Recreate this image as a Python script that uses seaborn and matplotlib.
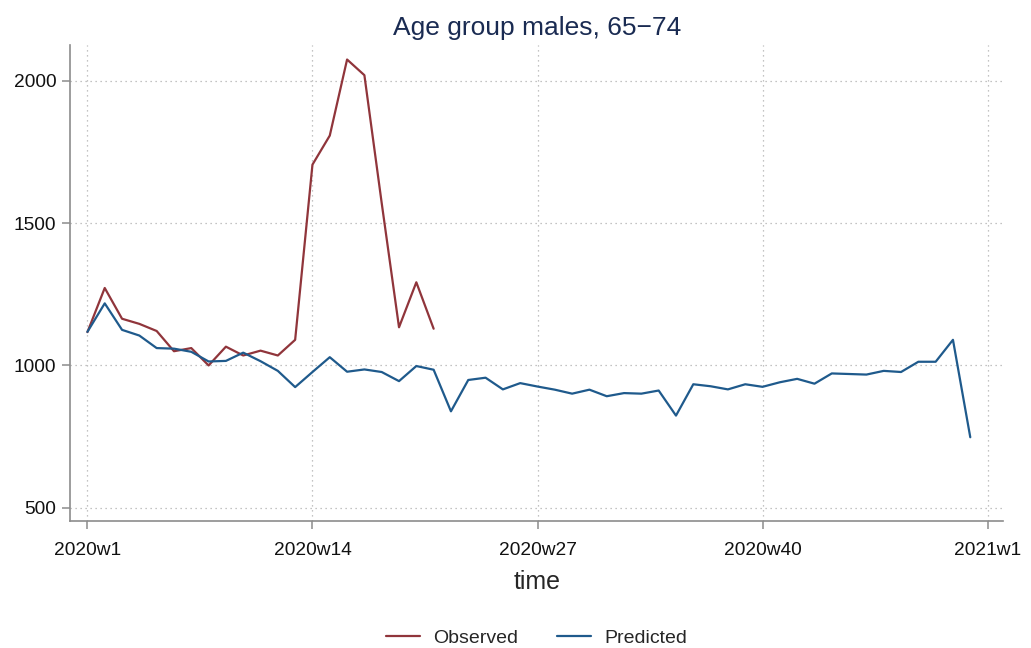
import numpy as np
import pandas as pd
import matplotlib
matplotlib.use("Agg")
import matplotlib.pyplot as plt
import seaborn as sns

# weekly counts, week index 1 = 2020w1
observed = [1117, 1272, 1164, 1146, 1121, 1050, 1061, 1000, 1066, 1035,
            1052, 1035, 1090, 1705, 1807, 2074, 2019, 1570, 1134, 1292, 1129]
predicted = [1118, 1218, 1125, 1105, 1061, 1059, 1048, 1014, 1016, 1045,
             1015, 981, 924, 977, 1029, 978, 986, 977, 945, 998,
             985, 839, 949, 957, 916, 938, 926, 915, 901, 915,
             892, 903, 901, 912, 824, 934, 927, 916, 934, 925,
             941, 953, 936, 972, 970, 968, 981, 977, 1013, 1013,
             1090, 748]
tick_weeks = [1, 14, 27, 40, 53]
tick_labels = ["2020w1", "2020w14", "2020w27", "2020w40", "2021w1"]

df = pd.concat([
    pd.DataFrame({"week": np.arange(1, len(observed) + 1), "value": observed, "series": "Observed"}),
    pd.DataFrame({"week": np.arange(1, len(predicted) + 1), "value": predicted, "series": "Predicted"}),
])

sns.set_style("white")
plt.rcParams["font.family"] = ["Liberation Sans", "DejaVu Sans"]

fig = plt.figure(figsize=(10.31, 6.48), dpi=100)
ax = fig.add_axes([0.068, 0.196, 0.905, 0.735])

sns.lineplot(data=df, x="week", y="value", hue="series",
             palette={"Observed": "#90353b", "Predicted": "#1f5a8c"},
             linewidth=1.6, ax=ax)

ax.set_xlim(0.0, 53.9)
ax.set_ylim(454, 2126)
ax.set_xticks(tick_weeks)
ax.set_xticklabels(tick_labels)
ax.set_yticks([500, 1000, 1500, 2000])
ax.grid(True, linestyle=(0, (1, 3)), color="#b0b0b0", linewidth=0.9)

for s in ["top", "right"]:
    ax.spines[s].set_visible(False)
for s in ["left", "bottom"]:
    ax.spines[s].set_color("#8c8c8c")
    ax.spines[s].set_linewidth(1.2)
ax.tick_params(axis="both", which="major", bottom=True, left=True,
               direction="out", length=6, width=1.1, pad=4,
               color="#8c8c8c", labelsize=13.8, labelcolor="#111111")
ax.tick_params(axis="x", pad=9)

ax.set_xlabel("time", fontsize=18, labelpad=8)
ax.set_ylabel("")
ax.set_title("Age group males, 65\u221274", fontsize=19, color="#1a2b52", pad=7)

handles, labels = ax.get_legend_handles_labels()
ax.legend(handles, labels, loc="upper center", bbox_to_anchor=(0.5, -0.19),
          ncol=2, frameon=False, fontsize=14, handlelength=1.75,
          handletextpad=0.7, columnspacing=2.0)

fig.savefig("out.png", dpi=100)
